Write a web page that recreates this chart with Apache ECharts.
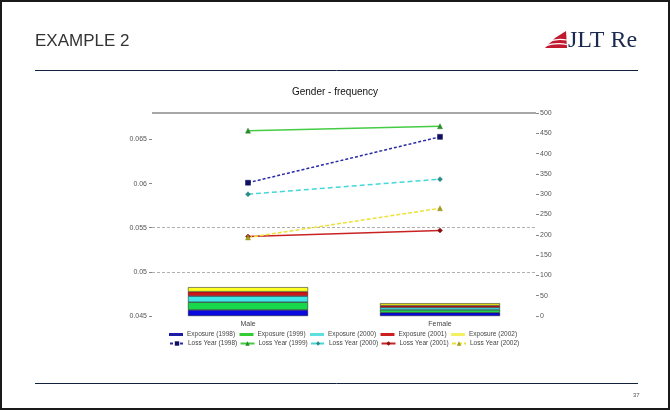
<!DOCTYPE html>
<html>
<head>
<meta charset="utf-8">
<style>
  html, body { margin: 0; padding: 0; background: #fff; }
  #chart { width: 670px; height: 410px; }
</style>
<script src="https://cdn.jsdelivr.net/npm/echarts@6/dist/echarts.min.js"></script>
</head>
<body>
<div id="chart"></div>
<script>
// Categories and values
const categories = ['Male', 'Female'];

// Exposure by year (right axis, stacked bars)
const exposure1998 = [15, 8];
const exposure1999 = [19, 7];
const exposure2000 = [15, 6];
const exposure2001 = [11, 5];
const exposure2002 = [11, 5.5];

// Claim frequency by loss year (left axis, lines)
const loss1998 = [0.0601, 0.0653];
const loss1999 = [0.0660, 0.0665];
const loss2000 = [0.0588, 0.0605];
const loss2001 = [0.0540, 0.0547];
const loss2002 = [0.0539, 0.0572];

// Reference lines
const frequencyGuides = [0.05, 0.055];
const exposureTop = 500;

const exposureNames = ['Exposure (1998)', 'Exposure (1999)', 'Exposure (2000)', 'Exposure (2001)', 'Exposure (2002)'];
const lossNames = ['Loss Year (1998)', 'Loss Year (1999)', 'Loss Year (2000)', 'Loss Year (2001)', 'Loss Year (2002)'];

const exposureData = [exposure1998, exposure1999, exposure2000, exposure2001, exposure2002];
const lossData = [loss1998, loss1999, loss2000, loss2001, loss2002];

const barColors = ['#0a0ae0', '#16d84a', '#3ee6e6', '#d0161a', '#ffff22'];
const exposureLegendColors = ['#1c1ca8', '#33cc33', '#5fe0e0', '#cc2020', '#f2f060'];
const lineColors = ['#2a2aa8', '#44cc44', '#44d8d8', '#c82222', '#ece23a'];
const markerColors = ['#101060', '#2a8a2a', '#2a8a8a', '#8a1010', '#a09a20'];
const lineTypes = [[3, 2], 'solid', [5, 3], 'solid', [4, 2]];
const lineSymbols = ['rect', 'triangle', 'diamond', 'diamond', 'triangle'];

const smallFont = 'Liberation Sans, Arial, sans-serif';

const series = [];
exposureData.forEach((vals, i) => {
  const s = {
    name: exposureNames[i],
    type: 'bar',
    stack: 'exposure',
    yAxisIndex: 1,
    barWidth: '62.5%',
    data: vals,
    itemStyle: { color: barColors[i], borderColor: '#111', borderWidth: 0.5 },
    emphasis: { disabled: true },
    z: 2
  };
  if (i === 0) {
    s.markLine = {
      silent: true,
      symbol: 'none',
      precision: 4,
      label: { show: false },
      lineStyle: { color: '#8a8a8a', type: 'solid', width: 1.5 },
      data: [{ yAxis: exposureTop }]
    };
  }
  series.push(s);
});
lossData.forEach((vals, i) => {
  const s = {
    name: lossNames[i],
    type: 'line',
    yAxisIndex: 0,
    data: vals,
    symbol: lineSymbols[i],
    symbolSize: 5,
    lineStyle: { color: lineColors[i], width: 1.5, type: lineTypes[i] },
    itemStyle: { color: markerColors[i], borderColor: markerColors[i], borderWidth: 0.5 },
    emphasis: { disabled: true },
    z: 5
  };
  if (i === 0) {
    s.markLine = {
      silent: true,
      symbol: 'none',
      precision: 4,
      label: { show: false },
      lineStyle: { color: '#b0b0b0', type: [3, 2], width: 1 },
      data: frequencyGuides.map(v => ({ yAxis: v }))
    };
  }
  series.push(s);
});

// One legend per entry, laid out in two rows
const legends = [];
const legendX = [169, 239.5, 310, 380.5, 451];
exposureNames.forEach((n, i) => {
  legends.push({
    data: [{ name: n, itemStyle: { color: exposureLegendColors[i], borderWidth: 0 } }],
    left: legendX[i], top: 331, padding: 0,
    icon: 'rect', itemWidth: 14, itemHeight: 3, itemGap: 0,
    selectedMode: false,
    textStyle: { fontSize: 6.5, color: '#444', fontFamily: smallFont, padding: [0, 0, 0, -1] }
  });
});
lossNames.forEach((n, i) => {
  legends.push({
    data: [{ name: n, itemStyle: { color: markerColors[i], borderWidth: 0 } }],
    left: legendX[i], top: 340, padding: 0,
    itemWidth: 14, itemHeight: 5.5, itemGap: 0,
    selectedMode: false,
    textStyle: { fontSize: 6.5, color: '#444', fontFamily: smallFont, padding: [0, 0, 0, -1] }
  });
});

const option = {
  animation: false,
  backgroundColor: '#ffffff',
  title: {
    text: 'Gender - frequency',
    left: 330, top: 82, textAlign: 'center',
    textStyle: { fontSize: 10, fontWeight: 'normal', color: '#111', fontFamily: smallFont }
  },
  legend: legends,
  grid: { left: 152, right: 134, top: 113, bottom: 94 },
  xAxis: {
    type: 'category',
    data: categories,
    axisLine: { show: false },
    axisTick: { show: false },
    axisLabel: { fontSize: 7, color: '#444', margin: 5, fontFamily: smallFont }
  },
  yAxis: [
    {
      type: 'value',
      position: 'left',
      min: 0.045, max: 0.068, interval: 0.005,
      axisLine: { show: false },
      axisTick: { show: true, length: 3, lineStyle: { color: '#888' } },
      splitLine: { show: false },
      axisLabel: {
        fontSize: 7, color: '#555', margin: 5, fontFamily: smallFont,
        showMaxLabel: false,
        formatter: v => String(parseFloat(v.toFixed(3)))
      }
    },
    {
      type: 'value',
      position: 'right',
      min: 0, max: 500, interval: 50,
      axisLine: { show: false },
      axisTick: { show: true, length: 3, lineStyle: { color: '#888' } },
      splitLine: { show: false },
      axisLabel: { fontSize: 7, color: '#555', margin: 4, fontFamily: smallFont }
    }
  ],
  graphic: [
    // slide frame
    { type: 'rect', shape: { x: 1, y: 1, width: 668, height: 408 }, style: { fill: 'none', stroke: '#1a1a1a', lineWidth: 2 }, silent: true },
    // header
    { type: 'text', left: 35, top: 33, style: { text: 'EXAMPLE 2', fontSize: 17, fill: '#333', fontFamily: smallFont } },
    { type: 'line', shape: { x1: 35, y1: 70.5, x2: 638, y2: 70.5 }, style: { stroke: '#12223f', lineWidth: 1 } },
    { type: 'line', shape: { x1: 35, y1: 383.5, x2: 638, y2: 383.5 }, style: { stroke: '#12223f', lineWidth: 1 } },
    { type: 'text', left: 633, top: 392, style: { text: '37', fontSize: 6, fill: '#555', fontFamily: smallFont } },
    // logo mark
    { type: 'polygon', shape: { points: [[545, 48], [555, 38], [566, 31], [567, 48]] }, style: { fill: '#c0182e' } },
    { type: 'bezierCurve', shape: { x1: 548, y1: 42, x2: 567, y2: 40, cpx1: 556, cpy1: 38 }, style: { stroke: '#fff', lineWidth: 1.2, fill: 'none' } },
    { type: 'bezierCurve', shape: { x1: 545, y1: 46, x2: 567, y2: 44.5, cpx1: 556, cpy1: 42 }, style: { stroke: '#fff', lineWidth: 1.2, fill: 'none' } },
    { type: 'text', left: 568, top: 29, style: { text: 'JLT Re', fontSize: 24, fill: '#1b2a4e', fontFamily: 'Liberation Serif, DejaVu Serif, serif' } }
  ],
  series: series
};

const chart = echarts.init(document.getElementById('chart'), null, { renderer: 'canvas' });
chart.setOption(option);
</script>
</body>
</html>
